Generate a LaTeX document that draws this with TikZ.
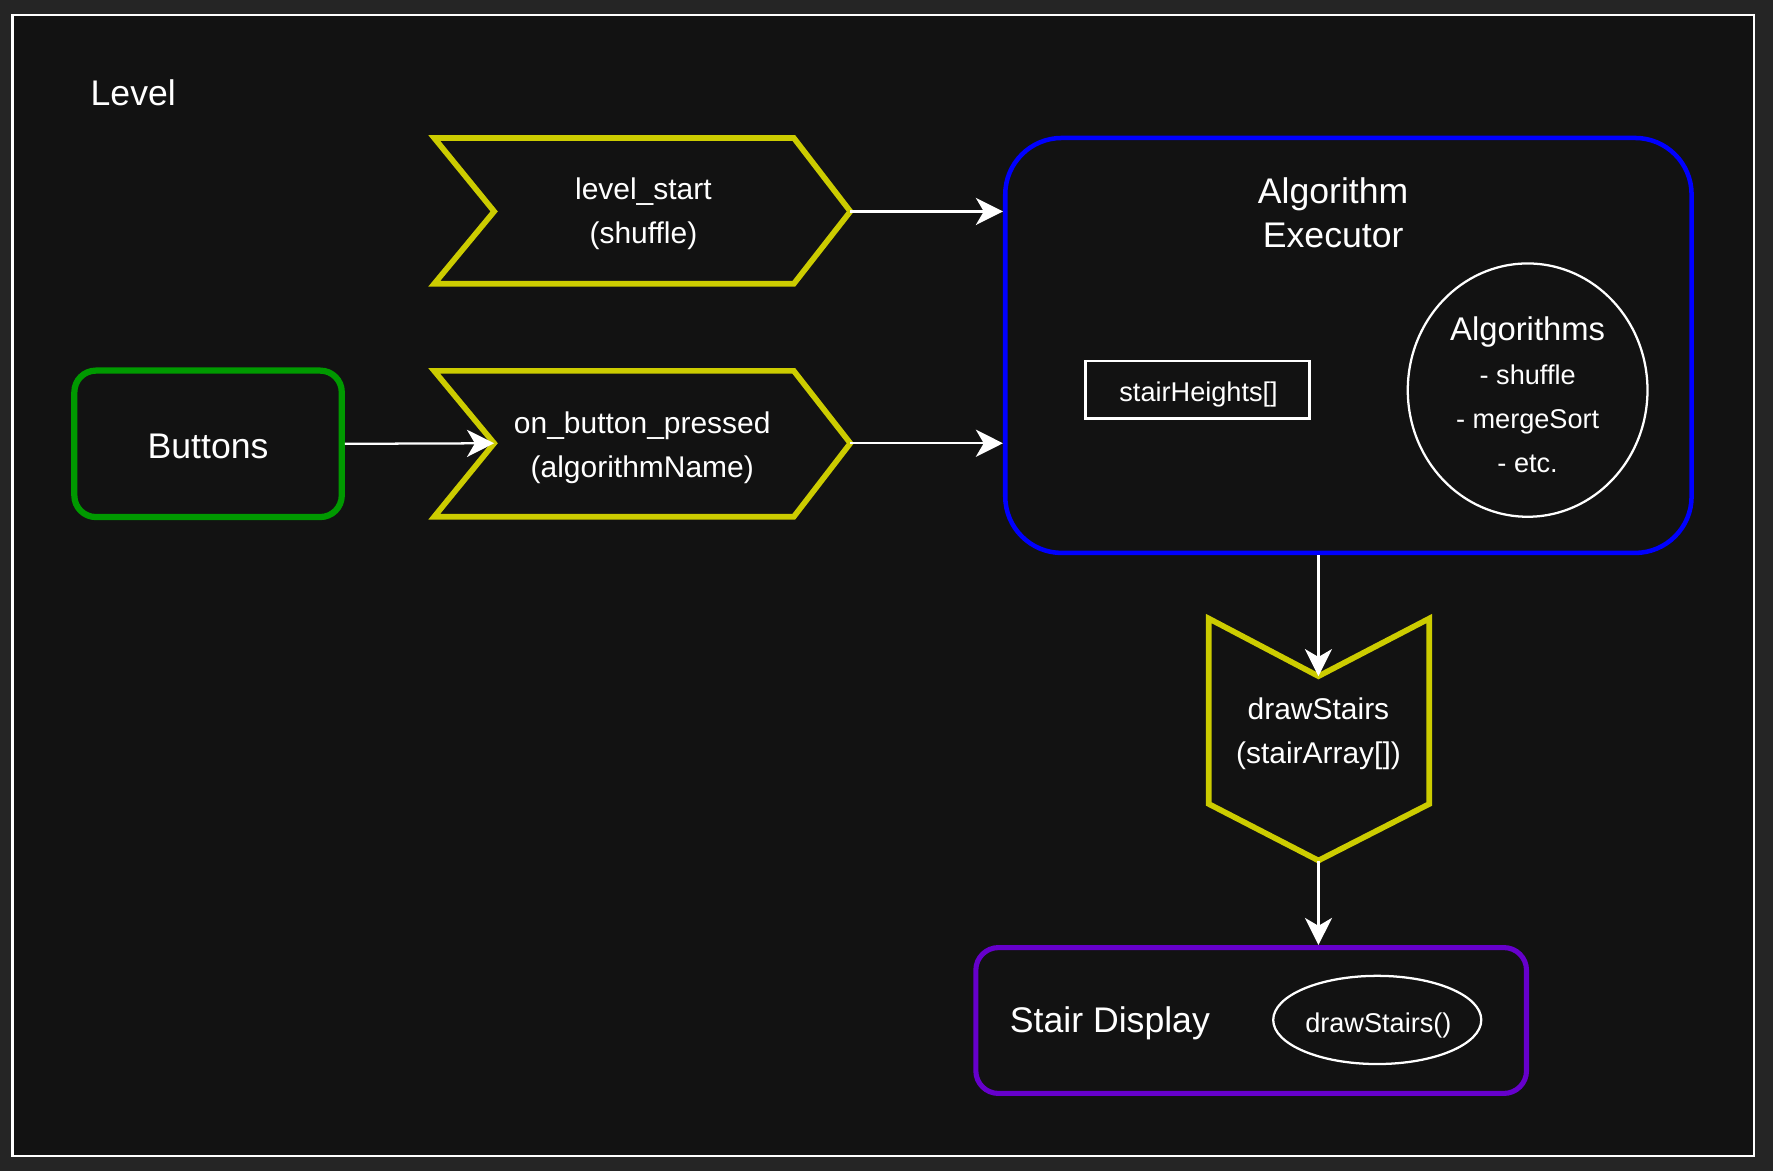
\documentclass[tikz,border=0pt]{standalone}
\usepackage{fontspec}
\setmainfont{Liberation Sans}
\usetikzlibrary{arrows.meta,shapes.geometric}
\definecolor{outerbg}{HTML}{252525}
\definecolor{innerbg}{HTML}{121212}
\definecolor{evyellow}{HTML}{CCCC00}
\definecolor{btngreen}{HTML}{009900}
\definecolor{exblue}{HTML}{0000FF}
\definecolor{stpurple}{HTML}{6600CC}
\tikzset{
  big/.style={font=\fontsize{31.5}{39}\selectfont},
  mid/.style={font=\fontsize{26.5}{39}\selectfont},
  small/.style={font=\fontsize{24}{39}\selectfont},
  txt/.style={text=white, inner sep=0pt, align=center},
  evshape/.style={draw=evyellow, line width=5pt, line join=miter},
  arr/.style={draw=white, line width=2pt, -{Stealth[length=24pt,width=24pt,inset=7pt]}},
  thinbox/.style={draw=white, line width=2pt, inner sep=0pt},
}
\begin{document}
\begin{tikzpicture}[x=1pt,y=-1pt]
  % background and frame
  \fill[outerbg] (0,0) rectangle (1568,1036);
  \useasboundingbox (0,0) rectangle (1568,1036);
  \draw[white, line width=2pt, fill=innerbg] (11,13) rectangle (1551,1022);

  \node[txt, big, anchor=west] (level) at (80,82) {Level};

  % Buttons
  \node[draw=btngreen, line width=5.5pt, rounded corners=19pt, minimum width=236.5pt, minimum height=129.5pt, inner sep=0pt] (buttons) at (184,392.5) {};
  \node[txt, big] (buttonsT) at (184,395) {Buttons};

  % event chevron 1: level_start
  \coordinate (ls-notch) at (437,187);
  \coordinate (ls-tip) at (752,187);
  \draw[evshape] (384,122) -- (702,122) -- (ls-tip) -- (702,251) -- (384,251) -- (ls-notch) -- cycle;
  \node[txt, mid] (lsT) at (569,189) {level\_start\\(shuffle)};

  % event chevron 2: on_button_pressed
  \coordinate (bp-notch) at (437,392);
  \coordinate (bp-tip) at (752,392);
  \draw[evshape] (384,328) -- (702,328) -- (bp-tip) -- (702,457) -- (384,457) -- (bp-notch) -- cycle;
  \node[txt, mid] (bpT) at (568,396) {on\_button\_pressed\\(algorithmName)};

  % Algorithm Executor
  \node[draw=exblue, line width=4pt, rounded corners=50pt, minimum width=607pt, minimum height=367pt, inner sep=0pt] (exec) at (1192.5,305.5) {};
  \node[txt, big] (execT) at (1179,188) {Algorithm\\Executor};
  \node[thinbox, minimum width=198pt, minimum height=51pt] (stair) at (1059,344.5) {};
  \node[txt, small] (stairT) at (1060,349) {stairHeights[]};
  \node[thinbox, ellipse, minimum width=212pt, minimum height=224pt] (algos) at (1351,345) {};
  \node[txt, small] (algosT) at (1351,349) {{\fontsize{29}{39}\selectfont Algorithms}\\- shuffle\\- mergeSort\\- etc.};

  % drawStairs event (down chevron)
  \coordinate (ds-notch) at (1166,598);
  \coordinate (ds-tip) at (1166,761);
  \draw[evshape] (1069,547) -- (ds-notch) -- (1264,547) -- (1264,711) -- (ds-tip) -- (1069,711) -- cycle;
  \node[txt, mid] (dsT) at (1166,649) {drawStairs\\(stairArray[])};

  % Stair Display
  \node[draw=stpurple, line width=4.5pt, rounded corners=20pt, minimum width=487pt, minimum height=129pt, inner sep=0pt] (display) at (1106.5,902.5) {};
  \node[txt, big, anchor=west] (displayT) at (893,905) {Stair Display};
  \node[thinbox, ellipse, minimum width=184pt, minimum height=78pt] (dsfun) at (1218,902) {};
  \node[txt, small] (dsfunT) at (1219,907) {drawStairs()};

  % connectors
  \draw[arr] (ls-tip) -- (exec.west |- ls-tip);
  \draw[arr] (buttons.east) -- (bp-notch);
  \draw[arr] (bp-tip) -- (exec.west |- bp-tip);
  \draw[arr] (exec.south -| ds-notch) -- (ds-notch);
  \draw[arr] (ds-tip) -- (display.north -| ds-tip);
\end{tikzpicture}
\end{document}
